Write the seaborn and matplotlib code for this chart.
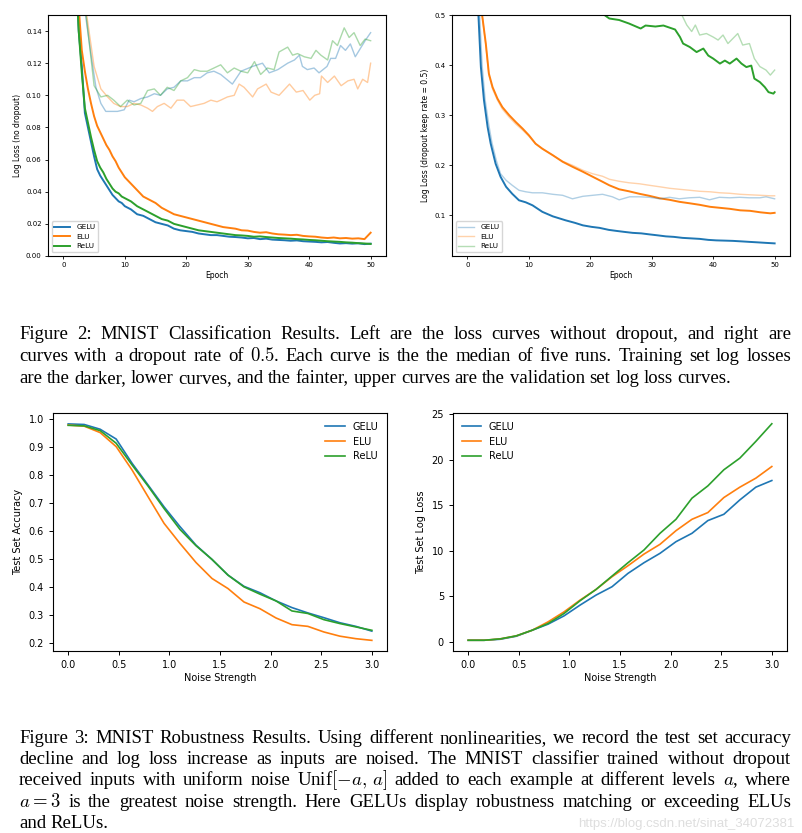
import matplotlib
matplotlib.use("Agg")
import matplotlib.pyplot as plt
import seaborn as sns

plt.rcParams['mathtext.fontset'] = 'cm'

# ---- Figure 2, left: no dropout (training = dark, validation = faint)
ep_train_left = [1.5, 2, 2.5, 3, 3.5, 4, 4.5, 5, 5.5, 6, 6.5, 7, 7.5, 8, 8.5, 9, 9.5, 10,
                 11, 12, 13, 14, 15, 16, 17, 18, 19, 20, 21, 22, 23, 24, 25, 26, 27, 28, 29, 30,
                 31, 32, 33, 34, 35, 36, 37, 38, 39, 40, 41, 42, 43, 44, 45, 46, 47, 48, 49, 50]
gelu_train_left = [0.250, 0.180, 0.140, 0.118, 0.089, 0.080, 0.071, 0.062, 0.054, 0.050, 0.047, 0.044,
                   0.041, 0.038, 0.036, 0.034, 0.033, 0.031,
                   0.029, 0.026, 0.025, 0.023, 0.021, 0.020, 0.019, 0.017, 0.016, 0.0155,
                   0.015, 0.014, 0.0135, 0.013, 0.013, 0.0125, 0.012, 0.0118, 0.0115, 0.011,
                   0.0112, 0.0105, 0.0108, 0.0102, 0.010, 0.0098, 0.0095, 0.0097, 0.0092, 0.0090,
                   0.0088, 0.0085, 0.0087, 0.0082, 0.0078, 0.0080, 0.0077, 0.0079, 0.0074, 0.0077]
elu_train_left = [0.260, 0.200, 0.155, 0.128, 0.115, 0.104, 0.095, 0.087, 0.081, 0.077, 0.073, 0.069,
                  0.066, 0.062, 0.059, 0.055, 0.052, 0.049,
                  0.045, 0.041, 0.037, 0.035, 0.033, 0.030, 0.028, 0.026, 0.025, 0.024,
                  0.023, 0.022, 0.021, 0.020, 0.019, 0.018, 0.0175, 0.017, 0.016, 0.0158,
                  0.015, 0.0145, 0.0148, 0.014, 0.0135, 0.0133, 0.013, 0.0132, 0.0125, 0.0122,
                  0.012, 0.0115, 0.0112, 0.0115, 0.011, 0.0112, 0.0108, 0.011, 0.0105, 0.0145]
relu_train_left = [0.250, 0.180, 0.140, 0.114, 0.092, 0.083, 0.074, 0.066, 0.059, 0.055, 0.052, 0.048,
                   0.045, 0.042, 0.040, 0.039, 0.037, 0.036,
                   0.034, 0.031, 0.029, 0.027, 0.025, 0.023, 0.022, 0.020, 0.019, 0.018,
                   0.017, 0.016, 0.0155, 0.015, 0.0145, 0.014, 0.0135, 0.013, 0.0128, 0.0125,
                   0.012, 0.0122, 0.0118, 0.0115, 0.0112, 0.011, 0.0108, 0.0105, 0.0103, 0.010,
                   0.0098, 0.0095, 0.0092, 0.009, 0.0088, 0.0085, 0.0083, 0.008, 0.0078, 0.0075]

ep_gelu_val_left = [3.0, 3.6, 4.4, 5.3, 6.1, 6.9, 7.7, 8.8, 9.9, 10.7, 11.5, 12.6, 13.7, 14.8, 15.8,
                    16.9, 18.0, 19.1, 20.2, 21.3, 22.3, 23.4, 24.5, 25.6, 27.5, 28.9, 30.8, 32.4,
                    33.5, 34.9, 36.5, 37.6, 38.4, 38.9, 39.7, 40.8, 41.6, 42.9, 43.5, 44.3, 45.1,
                    45.9, 46.7, 47.5, 48.3, 49.1, 50.0]
gelu_val_left = [0.170, 0.150, 0.128, 0.105, 0.095, 0.090, 0.090, 0.090, 0.091, 0.097, 0.096, 0.098,
                 0.099, 0.101, 0.100, 0.104, 0.105, 0.109, 0.109, 0.111, 0.111, 0.114, 0.115, 0.113,
                 0.107, 0.115, 0.118, 0.120, 0.114, 0.116, 0.120, 0.122, 0.125, 0.118, 0.116, 0.117,
                 0.114, 0.118, 0.123, 0.123, 0.131, 0.128, 0.132, 0.124, 0.129, 0.134, 0.139]
ep_elu_val_left = [3.0, 3.8, 5.0, 6.1, 7.2, 8.2, 9.3, 10.4, 11.5, 12.6, 13.7, 14.5, 15.3, 16.4, 17.5,
                   18.5, 19.6, 20.7, 21.8, 22.9, 24.0, 25.0, 25.6, 26.7, 27.8, 28.6, 29.4, 30.8,
                   31.6, 33.0, 33.8, 35.1, 36.8, 37.9, 39.0, 40.1, 40.9, 41.7, 42.0, 43.0, 44.1,
                   45.2, 46.3, 47.3, 47.9, 48.7, 49.5, 50.0]
elu_val_left = [0.175, 0.150, 0.118, 0.104, 0.099, 0.095, 0.093, 0.093, 0.095, 0.094, 0.092, 0.090,
                0.093, 0.095, 0.092, 0.097, 0.097, 0.093, 0.094, 0.095, 0.097, 0.096, 0.097, 0.099,
                0.100, 0.107, 0.105, 0.099, 0.104, 0.107, 0.102, 0.100, 0.107, 0.102, 0.103, 0.097,
                0.100, 0.101, 0.112, 0.108, 0.112, 0.106, 0.109, 0.110, 0.104, 0.110, 0.108, 0.120]
ep_relu_val_left = [3.0, 3.7, 5.0, 6.1, 7.2, 8.2, 9.3, 10.4, 11.5, 12.6, 13.7, 14.8, 15.8, 16.9, 18.0,
                    19.1, 20.2, 21.3, 22.3, 23.4, 24.5, 25.6, 26.7, 27.8, 28.9, 30.0, 31.1, 32.1,
                    33.2, 34.3, 35.1, 36.5, 37.3, 38.1, 39.2, 40.3, 41.1, 41.9, 43.0, 43.8, 44.6,
                    45.7, 46.5, 47.3, 48.3, 49.1, 50.0]
relu_val_left = [0.175, 0.150, 0.106, 0.099, 0.100, 0.097, 0.093, 0.097, 0.094, 0.095, 0.103, 0.104,
                 0.100, 0.105, 0.103, 0.109, 0.111, 0.116, 0.115, 0.115, 0.117, 0.119, 0.114, 0.117,
                 0.115, 0.114, 0.121, 0.113, 0.117, 0.116, 0.127, 0.130, 0.125, 0.126, 0.124, 0.123,
                 0.128, 0.125, 0.122, 0.134, 0.131, 0.142, 0.136, 0.139, 0.131, 0.135, 0.134]

# ---- Figure 2, right: dropout keep rate 0.5
ep_gelu_train_right = [1.6, 1.8, 2.2, 2.7, 3.3, 3.8, 4.6, 5.4, 6.3, 7.3, 8.4, 9.5, 10.6, 12.2, 13.9,
                       16.0, 17.5, 18.8, 20.2, 21.5, 23.0, 24.2, 25.5, 26.9, 28.3, 29.6, 31.0, 32.3,
                       33.6, 35.0, 36.4, 37.8, 39.2, 40.5, 41.9, 43.2, 44.6, 45.9, 47.3, 48.6, 50.0]
gelu_train_right = [0.560, 0.500, 0.396, 0.330, 0.276, 0.243, 0.203, 0.177, 0.157, 0.143, 0.130, 0.126,
                    0.120, 0.107, 0.098, 0.090, 0.085, 0.080, 0.077, 0.075, 0.071, 0.069, 0.067, 0.065,
                    0.064, 0.062, 0.060, 0.058, 0.057, 0.055, 0.054, 0.053, 0.051, 0.050, 0.0495,
                    0.049, 0.048, 0.047, 0.046, 0.045, 0.044]
ep_gelu_val_right = [1.7, 2.0, 2.4, 2.9, 3.5, 4.0, 4.7, 5.4, 6.3, 7.3, 8.4, 9.5, 10.6, 12.2, 13.9, 15.5,
                     17.1, 18.8, 20.4, 22.0, 23.6, 24.7, 26.4, 28.0, 29.6, 31.3, 32.9, 34.5, 36.1,
                     37.8, 39.4, 41.0, 42.7, 44.3, 45.9, 47.6, 48.6, 50.0]
gelu_val_right = [0.560, 0.500, 0.400, 0.330, 0.280, 0.245, 0.210, 0.183, 0.170, 0.160, 0.150, 0.147,
                  0.145, 0.145, 0.142, 0.140, 0.133, 0.138, 0.140, 0.142, 0.137, 0.131, 0.137, 0.137,
                  0.136, 0.133, 0.136, 0.133, 0.135, 0.136, 0.131, 0.136, 0.135, 0.136, 0.135, 0.135,
                  0.137, 0.133]
ep_elu_right = [2.2, 2.4, 3.0, 3.5, 4.1, 4.9, 5.7, 6.8, 7.9, 9.0, 10.0, 11.1, 12.2, 13.9, 15.5, 17.1,
                18.8, 20.4, 22.0, 23.1, 24.7, 26.3, 28.0, 29.6, 31.3, 32.9, 34.5, 36.2, 37.8, 39.5,
                41.1, 42.7, 44.4, 46.0, 47.7, 49.3, 50.0]
elu_train_right = [0.560, 0.500, 0.443, 0.383, 0.356, 0.333, 0.316, 0.300, 0.286, 0.273, 0.260, 0.243,
                   0.233, 0.220, 0.207, 0.197, 0.187, 0.177, 0.167, 0.160, 0.152, 0.148, 0.143, 0.139,
                   0.134, 0.131, 0.127, 0.124, 0.121, 0.117, 0.115, 0.113, 0.110, 0.109, 0.106, 0.104,
                   0.105]
elu_val_right = [0.560, 0.500, 0.440, 0.380, 0.352, 0.330, 0.312, 0.296, 0.282, 0.270, 0.258, 0.243,
                 0.233, 0.220, 0.208, 0.200, 0.190, 0.183, 0.178, 0.172, 0.168, 0.165, 0.163, 0.160,
                 0.157, 0.154, 0.152, 0.150, 0.148, 0.147, 0.145, 0.144, 0.142, 0.141, 0.140, 0.139,
                 0.139]
ep_relu_train_right = [18.0, 21.0, 22.3, 23.1, 24.7, 26.3, 28.2, 29.0, 30.6, 31.9, 33.8, 34.6, 35.1,
                       36.2, 37.3, 38.4, 39.2, 40.0, 41.1, 41.9, 42.7, 43.8, 44.6, 45.4, 46.2, 46.7,
                       47.6, 48.4, 49.0, 49.8, 50.0]
relu_train_right = [0.560, 0.515, 0.500, 0.493, 0.490, 0.483, 0.473, 0.479, 0.477, 0.479, 0.471, 0.456,
                    0.443, 0.436, 0.426, 0.433, 0.419, 0.413, 0.403, 0.409, 0.403, 0.413, 0.403, 0.396,
                    0.399, 0.373, 0.366, 0.356, 0.346, 0.343, 0.346]
ep_relu_val_right = [33.0, 34.9, 35.7, 36.5, 37.1, 37.8, 38.9, 40.0, 40.8, 41.6, 42.4, 43.2, 44.0, 44.8,
                     45.9, 46.7, 47.6, 48.6, 49.3, 50.0]
relu_val_right = [0.560, 0.500, 0.480, 0.467, 0.480, 0.460, 0.463, 0.456, 0.450, 0.460, 0.443, 0.453,
                  0.463, 0.440, 0.443, 0.413, 0.397, 0.390, 0.380, 0.390]

# ---- Figure 3: robustness to noise
noise = [0.0, 0.158, 0.316, 0.474, 0.632, 0.789, 0.947, 1.105, 1.263, 1.421, 1.579, 1.737, 1.895,
         2.053, 2.211, 2.368, 2.526, 2.684, 2.842, 3.0]
acc_gelu = [0.981, 0.979, 0.962, 0.927, 0.840, 0.763, 0.685, 0.614, 0.548, 0.497, 0.441, 0.401, 0.378,
            0.349, 0.325, 0.306, 0.289, 0.271, 0.258, 0.241]
acc_elu = [0.977, 0.973, 0.950, 0.900, 0.816, 0.721, 0.626, 0.554, 0.486, 0.429, 0.393, 0.345, 0.321,
           0.288, 0.264, 0.258, 0.238, 0.223, 0.214, 0.208]
acc_relu = [0.976, 0.974, 0.957, 0.912, 0.834, 0.759, 0.679, 0.604, 0.546, 0.497, 0.441, 0.399, 0.373,
            0.349, 0.313, 0.304, 0.282, 0.268, 0.256, 0.244]
loss_gelu = [0.18, 0.18, 0.29, 0.62, 1.28, 1.95, 2.86, 4.04, 5.14, 6.06, 7.53, 8.70, 9.73, 11.01,
             11.93, 13.33, 14.02, 15.60, 17.00, 17.73]
loss_elu = [0.18, 0.18, 0.33, 0.66, 1.28, 2.20, 3.30, 4.59, 5.76, 7.16, 8.37, 9.65, 10.72, 12.22,
            13.47, 14.21, 15.86, 17.00, 17.99, 19.27]
loss_relu = [0.18, 0.18, 0.33, 0.66, 1.28, 2.02, 3.12, 4.52, 5.76, 7.23, 8.70, 10.10, 11.93, 13.47,
             15.79, 17.14, 18.91, 20.19, 22.03, 23.97]

names = ['GELU', 'ELU', 'ReLU']

caption2 = [
    "Figure 2: MNIST Classification Results. Left are the loss curves without dropout, and right are",
    "curves with a dropout rate of $0.5$. Each curve is the the median of five runs. Training set log losses",
    "are the darker, lower curves, and the fainter, upper curves are the validation set log loss curves.",
]
caption3 = [
    "Figure 3: MNIST Robustness Results. Using different nonlinearities, we record the test set accuracy",
    "decline and log loss increase as inputs are noised. The MNIST classifier trained without dropout",
    r"received inputs with uniform noise Unif$[-a,\,a]$ added to each example at different levels $a$, where",
    "$a=3$ is the greatest noise strength. Here GELUs display robustness matching or exceeding ELUs",
    "and ReLUs.",
]

W, H = 803, 833
palette = sns.color_palette("tab10")
colors = [palette[0], palette[1], palette[2]]

fig = plt.figure(figsize=(W / 100, H / 100), dpi=100)


def px_axes(l, t, r, b):
    return fig.add_axes([l / W, 1 - b / H, (r - l) / W, (b - t) / H])


def draw(ax, x, y, color, lw, alpha=1.0):
    sns.lineplot(x=x, y=y, ax=ax, color=color, linewidth=lw, alpha=alpha,
                 errorbar=None, legend=False)
    return ax.get_lines()[-1]


ax1 = px_axes(48, 15, 386, 256)
ax2 = px_axes(452, 15, 790, 256)
ax3 = px_axes(53, 413, 387, 651)
ax4 = px_axes(453, 413, 787, 651)

# top-left
handles = []
for ep_v, v, c in zip([ep_gelu_val_left, ep_elu_val_left, ep_relu_val_left],
                      [gelu_val_left, elu_val_left, relu_val_left], colors):
    draw(ax1, ep_v, v, c, 1.0, alpha=0.4)
for v, c in zip([gelu_train_left, elu_train_left, relu_train_left], colors):
    handles.append(draw(ax1, ep_train_left, v, c, 1.4))
ax1.set_xlim(-2.5, 52.5)
ax1.set_ylim(0, 0.15)
ax1.set_yticks([0.00, 0.02, 0.04, 0.06, 0.08, 0.10, 0.12, 0.14])
ax1.set_xlabel('Epoch', fontsize=5.5, labelpad=2)
ax1.set_ylabel('Log Loss (no dropout)', fontsize=5.5, labelpad=3)
ax1.legend(handles, names, loc='lower left', fontsize=5.2, handlelength=2.2)

# top-right
handles = []
for ep_t, v, c in zip([ep_gelu_train_right, ep_elu_right, ep_relu_train_right],
                      [gelu_train_right, elu_train_right, relu_train_right], colors):
    draw(ax2, ep_t, v, c, 1.4)
for ep_v, v, c in zip([ep_gelu_val_right, ep_elu_right, ep_relu_val_right],
                      [gelu_val_right, elu_val_right, relu_val_right], colors):
    handles.append(draw(ax2, ep_v, v, c, 1.0, alpha=0.35))
ax2.set_xlim(-2.5, 52.5)
ax2.set_ylim(0.0188, 0.5)
ax2.set_yticks([0.1, 0.2, 0.3, 0.4, 0.5])
ax2.set_xlabel('Epoch', fontsize=5.5, labelpad=2)
ax2.set_ylabel('Log Loss (dropout keep rate = 0.5)', fontsize=5.5, labelpad=3)
ax2.legend(handles, names, loc='lower left', fontsize=5.2, handlelength=2.2)

for ax in (ax1, ax2):
    ax.set_xticks([0, 10, 20, 30, 40, 50])
    ax.tick_params(labelsize=5, length=2.5, width=0.6, pad=2)

# bottom-left
handles = [draw(ax3, noise, v, c, 1.2) for v, c in zip([acc_gelu, acc_elu, acc_relu], colors)]
ax3.set_xlim(-0.15, 3.15)
ax3.set_ylim(0.17, 1.02)
ax3.set_yticks([0.2, 0.3, 0.4, 0.5, 0.6, 0.7, 0.8, 0.9, 1.0])
ax3.set_ylabel('Test Set Accuracy', fontsize=7)
ax3.legend(handles, names, loc='upper right', frameon=False, fontsize=7)

# bottom-right
handles = [draw(ax4, noise, v, c, 1.2) for v, c in zip([loss_gelu, loss_elu, loss_relu], colors)]
ax4.set_xlim(-0.15, 3.15)
ax4.set_ylim(-1.0, 25.15)
ax4.set_yticks([0, 5, 10, 15, 20, 25])
ax4.set_ylabel('Test Set Log Loss', fontsize=7)
ax4.legend(handles, names, loc='upper left', frameon=False, fontsize=7)

for ax in (ax3, ax4):
    ax.set_xticks([0.0, 0.5, 1.0, 1.5, 2.0, 2.5, 3.0])
    ax.set_xticklabels(['0.0', '0.5', '1.0', '1.5', '2.0', '2.5', '3.0'])
    ax.set_xlabel('Noise Strength', fontsize=7, labelpad=2)
    ax.tick_params(labelsize=7, length=3, width=0.7)

# watermark (sits right of the short last caption line)
fig.text(795 / W, 1 - 827 / H, 'https://blog.csdn.net/sinat_34072381', ha='right', va='baseline',
         fontsize=9.5, color='#dedede', family='Liberation Sans', zorder=0)


def paragraph(lines, baselines, x0=19, x1=791, size=13.5, family='Liberation Serif'):
    r = fig.canvas.get_renderer()
    while True:
        placed = []
        for line in lines:
            ts = [fig.text(0, 0, w, fontsize=size, family=family, va='baseline')
                  for w in line.split(' ')]
            ws = [t.get_window_extent(r).width for t in ts]
            placed.append((ts, ws))
        space = size * 100 / 72 * 0.25
        fits = all(sum(ws) + 0.7 * space * (len(ws) - 1) <= x1 - x0 for ts, ws in placed[:-1])
        if fits or size < 8:
            break
        for ts, _ in placed:
            for t in ts:
                t.remove()
        size -= 0.25
    for i, ((ts, ws), yb) in enumerate(zip(placed, baselines)):
        last = i == len(lines) - 1
        gap = space if last else (x1 - x0 - sum(ws)) / (len(ws) - 1)
        x = x0
        for t, w in zip(ts, ws):
            t.set_position((x / W, 1 - yb / H))
            x += w + gap


paragraph(caption2, [339, 361, 383])
paragraph(caption3, [743, 764, 785, 807, 828])

fig.savefig('out.png', dpi=100)
